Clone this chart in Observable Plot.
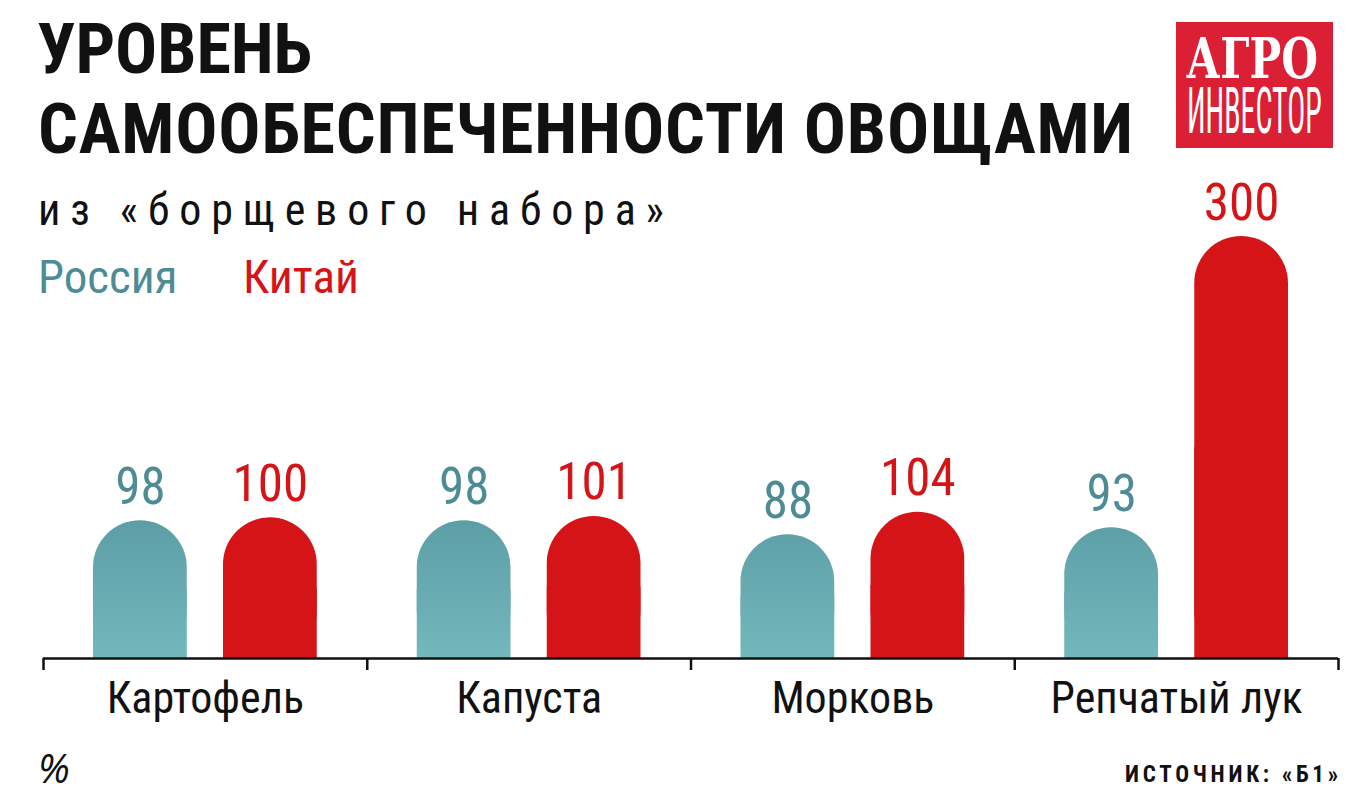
<!DOCTYPE html>
<html><head><meta charset="utf-8">
<script src="https://cdn.jsdelivr.net/npm/d3@7"></script>
<script src="https://cdn.jsdelivr.net/npm/@observablehq/plot@0.6"></script>
<style>
body{margin:0;background:#fff;}
#wrap{position:relative;width:1358px;height:812px;overflow:hidden;font-family:"Liberation Sans Narrow","Roboto Condensed",Roboto,sans-serif;color:#111;}
.t{position:absolute;white-space:nowrap;line-height:1;}
#chart{position:absolute;left:0;top:150px;}
</style></head><body><div id="wrap"><div id="chart"></div></div>
<script>
// ---- data ----
const categories = ["Картофель", "Капуста", "Морковь", "Репчатый лук"];
const seriesNames = ["Россия", "Китай"];
const russia = [98, 98, 88, 93];
const china = [100, 101, 104, 300];
const title1 = "УРОВЕНЬ";
const title2 = "САМООБЕСПЕЧЕННОСТИ ОВОЩАМИ";
const subtitle = "из «борщевого набора»";
const unitLabel = "%";
const sourceLabel = "ИСТОЧНИК: «Б1»";
const logoTop = "АГРО";
const logoBottom = "ИНВЕСТОР";

const tealText = "#4e8c95", red = "#d51418";
const FONT = '"Liberation Sans Narrow","Roboto Condensed",Roboto,sans-serif';

const rows = categories.flatMap((c, i) => [
  {category: c, i, series: seriesNames[0], value: russia[i]},
  {category: c, i, series: seriesNames[1], value: china[i]}
]);
const ru = rows.filter(d => d.series === seriesNames[0]);
const cn = rows.filter(d => d.series === seriesNames[1]);
const R = 46.9;

const plot = Plot.plot({
  width: 1358, height: 600,
  marginTop: 86, marginBottom: 92, marginLeft: 43, marginRight: 20,
  x: {type: "linear", domain: [0, categories.length], axis: null, label: null},
  y: {domain: [0, 300], axis: null, label: null},
  style: {fontFamily: FONT, background: "transparent", overflow: "visible"},
  marks: [
    Plot.rect(ru, {x1: "i", x2: d => d.i + 1, y1: 0, y2: "value", insetLeft: 50, insetRight: 180, rx: R, fill: "url(#tealGrad)"}),
    Plot.rect(ru, {x1: "i", x2: d => d.i + 1, y1: 0, y2: d => d.value / 2, insetLeft: 50, insetRight: 180, fill: "url(#tealGrad)"}),
    Plot.rect(cn, {x1: "i", x2: d => d.i + 1, y1: 0, y2: "value", insetLeft: 180, insetRight: 50, rx: R, fill: red}),
    Plot.rect(cn, {x1: "i", x2: d => d.i + 1, y1: 0, y2: d => d.value / 2, insetLeft: 180, insetRight: 50, fill: red}),
    Plot.ruleY([0], {stroke: "#111", strokeWidth: 2.5}),
    Plot.axisX({ticks: d3.range(categories.length + 1), tickSize: 12, tickFormat: () => "", label: null, stroke: "#111", strokeWidth: 2.5}),
    Plot.text(ru, {x: d => d.i + 0.5, y: "value", text: d => String(d.value), dx: -65, dy: -17, lineAnchor: "bottom", fontSize: 51, fill: tealText}),
    Plot.text(cn, {x: d => d.i + 0.5, y: "value", text: d => String(d.value), dx: 65, dy: -17, lineAnchor: "bottom", fontSize: 51, fill: red}),
    Plot.text(categories, {x: (d, i) => i + 0.5, text: d => d, frameAnchor: "bottom", lineAnchor: "bottom", dy: 54, fontSize: 44, fill: "#111"})
  ]
});
// gradient for teal bars
const yS = plot.scale("y");
const gTop = yS.apply(d3.max(russia)), gBot = yS.apply(0);
const ns = "http://www.w3.org/2000/svg";
const defs = document.createElementNS(ns, "defs");
const lg = document.createElementNS(ns, "linearGradient");
lg.setAttribute("id", "tealGrad"); lg.setAttribute("gradientUnits", "userSpaceOnUse");
lg.setAttribute("x1", 0); lg.setAttribute("x2", 0); lg.setAttribute("y1", gTop); lg.setAttribute("y2", gBot);
[["0", "#5d9ea6"], ["1", "#72b8bc"]].forEach(([o, c]) => {
  const s = document.createElementNS(ns, "stop"); s.setAttribute("offset", o); s.setAttribute("stop-color", c); lg.appendChild(s);
});
defs.appendChild(lg);
plot.insertBefore(defs, plot.firstChild);
document.getElementById("chart").appendChild(plot);

// ---- header / footer text ----
const wrap = document.getElementById("wrap");
function addText(txt, o) {
  const el = document.createElement("div");
  el.className = "t";
  el.textContent = txt;
  el.style.fontSize = o.fs + "px";
  el.style.fontFamily = o.family || FONT;
  if (o.bold) el.style.fontWeight = "bold";
  if (o.italic) el.style.fontStyle = "italic";
  el.style.color = o.color || "#111";
  el.style.left = "0px"; el.style.top = "0px";
  wrap.appendChild(el);
  const n = [...txt].length;
  let w = el.getBoundingClientRect().width;
  if (o.width) {
    const ls = (o.width - w) / (n - 1);
    el.style.letterSpacing = ls + "px";
    w = o.width;
  }
  const probe = document.createElement("span");
  probe.style.display = "inline-block"; probe.style.width = "0"; probe.style.height = "0";
  el.appendChild(probe);
  const off = probe.getBoundingClientRect().top - el.getBoundingClientRect().top;
  el.removeChild(probe);
  const left = o.right !== undefined ? o.right - w : o.left;
  el.style.left = left + "px";
  el.style.top = (o.baseline - off) + "px";
  return el;
}
addText(title1, {fs: 70, bold: true, left: 37, baseline: 73, width: 275});
addText(title2, {fs: 70, bold: true, left: 38, baseline: 153, width: 1095});
addText(subtitle, {fs: 44, left: 38, baseline: 225, width: 626});
addText(seriesNames[0], {fs: 47, left: 38, baseline: 293, color: tealText});
addText(seriesNames[1], {fs: 47, left: 243, baseline: 293, color: red});
addText(unitLabel, {fs: 40, italic: true, left: 38, baseline: 783, family: '"Open Sans",sans-serif'});
addText(sourceLabel, {fs: 23, bold: true, right: 1338, baseline: 782, width: 213});

// ---- logo ----
const logo = document.createElementNS(ns, "svg");
logo.setAttribute("width", 157); logo.setAttribute("height", 126);
logo.style.position = "absolute"; logo.style.left = "1176px"; logo.style.top = "22px";
wrap.appendChild(logo);
const bg = document.createElementNS(ns, "rect");
bg.setAttribute("width", 157); bg.setAttribute("height", 126); bg.setAttribute("fill", "#db1f35");
logo.appendChild(bg);
function logoText(txt, {family, weight, fs, x, baseline, width, cap}) {
  const t = document.createElementNS(ns, "text");
  t.textContent = txt;
  t.setAttribute("fill", "#fff");
  t.style.fontFamily = family;
  t.style.fontWeight = weight;
  t.style.fontSize = fs + "px";
  logo.appendChild(t);
  const w = t.getComputedTextLength();
  const sx = width / w, sy = cap / (0.729 * fs);
  t.setAttribute("transform", `translate(${x},${baseline}) scale(${sx},${sy})`);
}
logoText(logoTop, {family: '"DejaVu Serif", serif', weight: "bold", fs: 30, x: 10, baseline: 56, width: 132, cap: 41});
logoText(logoBottom, {family: FONT, weight: "normal", fs: 20, x: 11, baseline: 111, width: 135, cap: 47});
</script>
</body></html>
